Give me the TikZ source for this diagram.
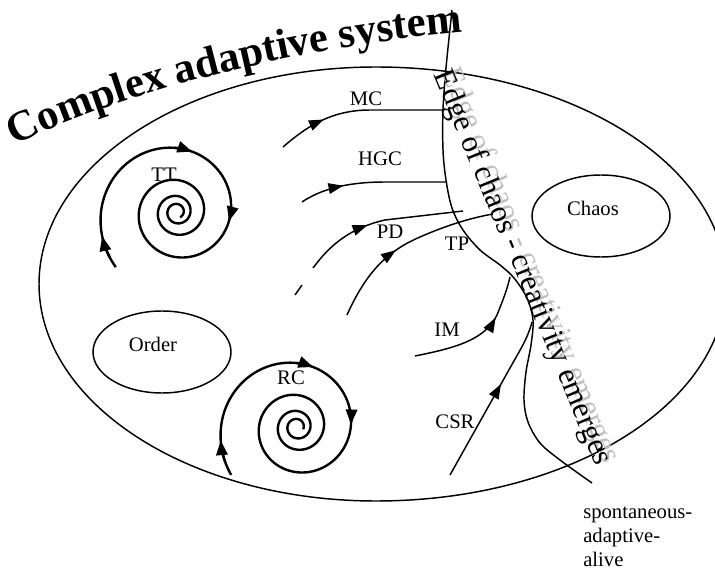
\documentclass[tikz,border=0pt]{standalone}
\usepackage{fontspec}
\setmainfont{Liberation Serif}
\usetikzlibrary{arrows.meta,decorations.markings,decorations.text,shapes.geometric}
\begin{document}
\begin{tikzpicture}[x=0.75pt,y=-0.75pt,
  line/.style={line width=1.1pt},
  spiralline/.style={line width=1.8pt},
  tip/.style={-{Triangle[length=11pt,width=8.5pt]}},
  flow/.style={line width=1.1pt, postaction={decorate},
    decoration={markings, mark=at position #1 with {\arrow{Triangle[length=11pt,width=8pt]}}}},
  lbl/.style={font=\fontsize{15.5}{18}\selectfont, inner sep=0pt},
  region/.style={ellipse, draw, line width=1.1pt, minimum width=103.5pt, minimum height=61.5pt, inner sep=0pt},
  edgetext/.style={rotate=-67.5, inner sep=0pt, font=\fontsize{23}{28}\selectfont}
]
\useasboundingbox (0,0) rectangle (715,574);
\clip (0,0) rectangle (715,574);

% big ellipse
\draw[line] (39,284) arc[start angle=180, end angle=270, x radius=337, y radius=217]
  arc[start angle=270, end angle=450, x radius=350, y radius=217]
  arc[start angle=90, end angle=180, x radius=337, y radius=217] -- cycle;

% title along arc
\path[decorate, decoration={text along path, text align=left,
  text={|\fontsize{32}{36}\selectfont\bfseries|Complex adaptive system}}]
  (15,146) .. controls (110,96) and (300,44) .. (480,31);

% small ellipses
\node[region] (chaos) at (601,216) {};
\node[lbl] (chaoslbl) at (593,208) {Chaos};
\node[region] (order) at (162,352) {};
\node[lbl] (orderlbl) at (153,344) {Order};

% edge of chaos line
\coordinate (etop) at (452,10);
\coordinate (ebot) at (592,483);
\draw[line] plot[smooth, tension=0.55] coordinates {(etop) (446,68) (443,110) (443,150) (446,180) (452,208) (463,230) (480,250) (500,265) (514,278) (527,298) (533,320) (531,345) (526,372) (524,400) (528,422) (540,443) (560,460) (ebot)};

% edge text with shadow
\node[edgetext, text=black!25] (edgeshadow) at (530,266) {Edge of chaos - creativity emerges};
\node[edgetext] (edgelbl) at (522,268) {Edge of chaos - creativity emerges};

% spirals TT
\draw[spiralline] plot[domain=138:1500, samples=450] ({177+76*exp(-0.0019254*(\x-180))*cos(\x)}, {212+76*exp(-0.0019254*(\x-180))*sin(\x)});
\foreach \a in {162,284,370}{
  \draw[spiralline, tip] plot[domain=\a-16:\a, samples=8] ({177+76*exp(-0.0019254*(\x-180))*cos(\x)}, {212+76*exp(-0.0019254*(\x-180))*sin(\x)});
}
\node[lbl] (tt) at (164,175) {TT};

% spiral RC
\draw[spiralline] plot[domain=144:1460, samples=450] ({297+76*exp(-0.0019254*(\x-180))*cos(\x)}, {427+76*exp(-0.0019254*(\x-180))*sin(\x)});
\foreach \a in {170,285,357}{
  \draw[spiralline, tip] plot[domain=\a-16:\a, samples=8] ({297+76*exp(-0.0019254*(\x-180))*cos(\x)}, {427+76*exp(-0.0019254*(\x-180))*sin(\x)});
}
\node[lbl] (rc) at (291,378) {RC};

% flows
\coordinate (mcs) at (283,147); \coordinate (mce) at (443,110);
\draw[flow=0.29] (mcs) .. controls (305,128) and (330,110) .. (370,110) -- (mce);
\node[lbl] (mc) at (366,99) {MC};

\coordinate (hgs) at (302,202); \coordinate (hge) at (447,182);
\draw[flow=0.3] (hgs) .. controls (320,190) and (345,182) .. (385,182) -- (hge);
\node[lbl] (hgc) at (380,159) {HGC};

\coordinate (pds) at (313,268); \coordinate (pde) at (463,211);
\draw[flow=0.42] (pds) .. controls (330,245) and (350,228) .. (385,220) -- (pde);
\node[lbl] (pd) at (390,232) {PD};

\coordinate (tps) at (347,315); \coordinate (tpe) at (493,214);
\draw[flow=0.44] (tps) .. controls (365,275) and (385,252) .. (420,237) .. controls (445,226) and (470,218) .. (tpe);
\node[lbl] (tp) at (457,244) {TP};

\coordinate (ims) at (415,356); \coordinate (ime) at (510,277);
\draw[flow=0.68] (ims) .. controls (455,348) and (485,340) .. (497,315) .. controls (503,300) and (507,290) .. (ime);
\node[lbl] (im) at (447,330) {IM};

\coordinate (css) at (450,475); \coordinate (cse) at (532,322);
\draw[flow=0.6] (css) -- (510,368) .. controls (520,350) and (528,338) .. (cse);
\node[lbl] (csr) at (455,422) {CSR};

% stray dash
\coordinate (da) at (295,295); \coordinate (db) at (302,285);
\draw[line] (da) -- (db);

% bottom right text
\node[lbl, anchor=north west, align=left, font=\fontsize{15.5}{18}\selectfont] (spont) at (583,507) {spontaneous-\\adaptive-\\alive};
\end{tikzpicture}
\end{document}
